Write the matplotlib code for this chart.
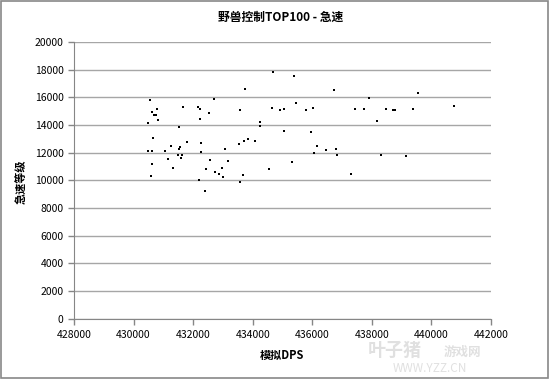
import matplotlib
matplotlib.use("Agg")
import matplotlib.pyplot as plt
from matplotlib.patches import Rectangle

plt.rcParams["font.family"] = ["Noto Sans CJK SC", "DejaVu Sans"]

# simulated DPS vs haste rating
dps = [
    430540, 432694, 430787, 431661, 432166, 432233, 430631, 430698, 430765, 432536,
    432223, 430820, 430473, 431539, 430665, 431796, 432266, 431257, 431573, 431539,
    430483, 430608, 431045, 432266, 431493, 431641, 431607, 431170, 432570, 430608,
    431325, 432425, 432728, 432852, 430584, 432199, 432391,
    434679, 435396, 433737, 435463, 433579, 434645, 434925, 435059, 434232, 434232,
    435059, 434073, 433838, 433703, 433545, 433074, 433175, 435328, 434555, 432953,
    432987, 433680, 433579,
    436742, 437909, 436025, 435800, 437428, 437741, 435958, 436150, 436463, 436809,
    436059, 436833, 437304,
    439535, 440746, 438491, 438706, 438793, 439380, 438188, 438313, 439154,
]
haste = [
    15800, 15845, 15170, 15316, 15265, 15120, 14931, 14713, 14713, 14858,
    14445, 14373, 14155, 13843, 13046, 12756, 12683, 12487, 12437, 12292,
    12147, 12147, 12147, 12074, 11835, 11835, 11617, 11545, 11472, 11160,
    10870, 10798, 10580, 10479, 10334, 10000, 9246,
    17832, 17542, 16599, 15584, 15047, 15192, 15047, 15120, 14250, 13937,
    13553, 12828, 12973, 12872, 12611, 12270, 11399, 11327, 10798, 10870,
    10261, 10363, 9855,
    16527, 15968, 15243, 15047, 15120, 15120, 13480, 12487, 12219, 12292,
    12002, 11813, 10479,
    16309, 15388, 15120, 15047, 15047, 15120, 14300, 11835, 11762,
]

title = "野兽控制TOP100 - 急速"
x_label = "模拟DPS"
y_label = "急速等级"

fig = plt.figure(figsize=(5.5, 3.79), dpi=100)
ax = fig.add_axes([74 / 550, 1 - 318.6 / 379, (491 - 74) / 550, (318.6 - 42) / 379])

ax.scatter(dps, haste, marker="s", s=4, color="black", linewidths=0, zorder=3)

ax.set_xlim(428000, 442000)
ax.set_ylim(0, 20000)
ax.set_xticks(range(428000, 442001, 2000))
ax.set_yticks(range(0, 20001, 2000))
ax.yaxis.grid(True, color="#a6a6a6", linewidth=1)
ax.set_axisbelow(True)

for s in ("top", "right"):
    ax.spines[s].set_visible(False)
ax.spines["left"].set_color("#868686")
ax.spines["bottom"].set_color("#868686")
ax.tick_params(axis="both", colors="#868686", length=4, width=1, labelsize=7.5,
               labelcolor="black", direction="out")
ax.tick_params(axis="x", pad=4)

fig.text(0.5 + 0.01, 1 - 17 / 379, title, ha="center", va="center",
         fontsize=8.5, fontweight="bold")
fig.text(282 / 550, 1 - 355 / 379, x_label, ha="center", va="center",
         fontsize=8, fontweight="bold")
fig.text(22 / 550, 1 - 182 / 379, y_label, ha="center", va="center",
         fontsize=8, fontweight="bold", rotation=90)

# site watermark (nudged below the tick labels)
fig.text(395 / 550, 1 - 350 / 379, "叶子猪", ha="center", va="center", fontsize=13,
         fontweight="bold", color="#d9d9d9", alpha=0.8)
fig.text(462 / 550, 1 - 352 / 379, "游戏网", ha="center", va="center", fontsize=9,
         fontweight="bold", color="#d9d9d9", alpha=0.8)
fig.text(430 / 550, 1 - 368 / 379, "WWW.YZZ.CN", ha="center", va="center", fontsize=8.5,
         color="#d9d9d9", alpha=0.8)

fig.patches.append(Rectangle((0.002, 0.003), 0.995, 0.994, transform=fig.transFigure,
                             fill=False, edgecolor="#888888", linewidth=1.2))

fig.savefig("out.png", dpi=100)
